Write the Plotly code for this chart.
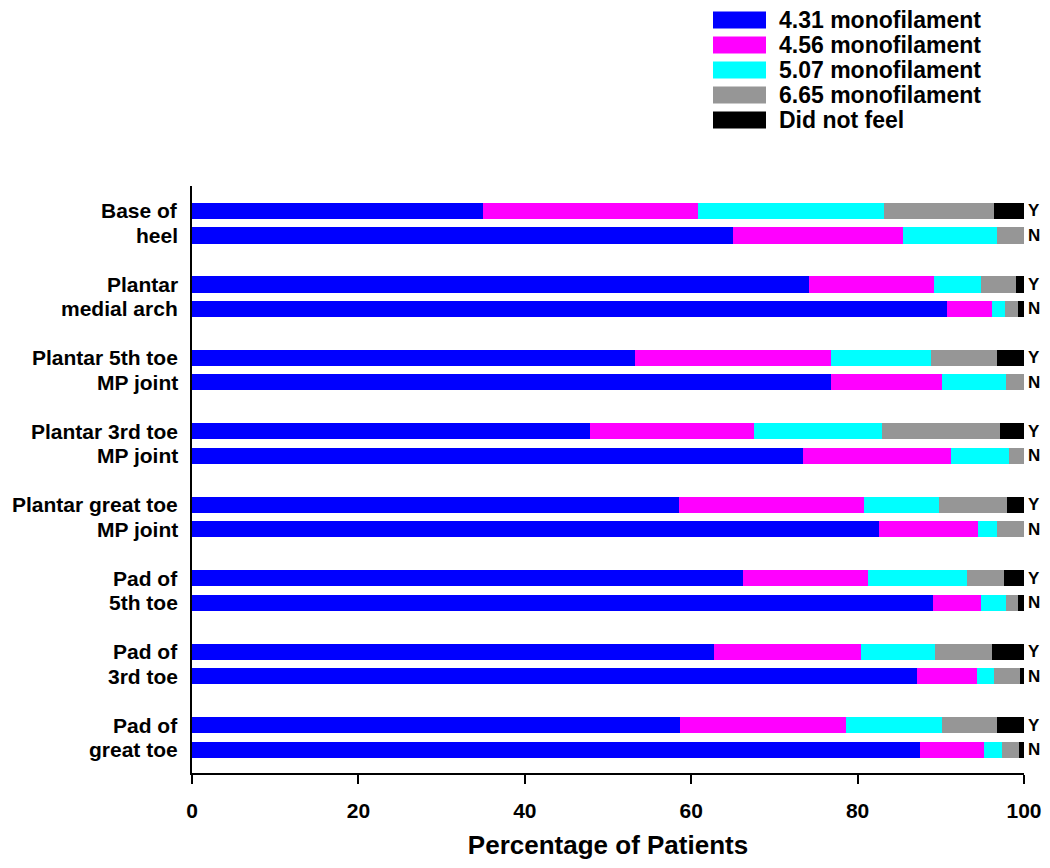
import plotly.graph_objects as go

# ---- data ----
site_line1 = ["Base of", "Plantar", "Plantar 5th toe", "Plantar 3rd toe",
              "Plantar great toe", "Pad of", "Pad of", "Pad of"]
site_line2 = ["heel", "medial arch", "MP joint", "MP joint",
              "MP joint", "5th toe", "3rd toe", "great toe"]
yn_labels = ["Y", "N"]

series_names = ["4.31 monofilament", "4.56 monofilament", "5.07 monofilament",
                "6.65 monofilament", "Did not feel"]
series_colors = ["#0000FF", "#FF00FF", "#00FFFF", "#969696", "#000000"]

# bars ordered: site1 Y, site1 N, site2 Y, site2 N, ...
mono_431 = [35.0, 65.0, 74.2, 90.7, 53.3, 76.8, 47.8, 73.4, 58.5, 82.6, 66.2, 89.1, 62.7, 87.1, 58.7, 87.5]
mono_456 = [25.8, 20.5, 15.0, 5.4, 23.5, 13.4, 19.8, 17.8, 22.3, 11.9, 15.0, 5.7, 17.7, 7.3, 19.9, 7.7]
mono_507 = [22.4, 11.3, 5.6, 1.6, 12.0, 7.6, 15.3, 7.0, 9.0, 2.2, 11.9, 3.0, 8.9, 2.0, 11.5, 2.1]
mono_665 = [13.2, 3.2, 4.2, 1.6, 8.0, 2.2, 14.2, 1.8, 8.1, 3.3, 4.5, 1.5, 6.8, 3.1, 6.7, 2.1]
did_not_feel = [3.6, 0.0, 1.0, 0.7, 3.2, 0.0, 2.9, 0.0, 2.1, 0.0, 2.4, 0.7, 3.9, 0.5, 3.2, 0.6]

x_ticks = [0, 20, 40, 60, 80, 100]
x_title = "Percentage of Patients"

# ---- layout helpers ----
FONT = "Arial, Liberation Sans, sans-serif"
series_values = [mono_431, mono_456, mono_507, mono_665, did_not_feel]
n_sites = len(site_line1)
positions = []
for i in range(n_sites):
    positions += [3 * i, 3 * i + 1]

fig = go.Figure()
for name, color, vals in zip(series_names, series_colors, series_values):
    fig.add_trace(go.Bar(
        x=vals, y=positions, orientation="h", name=name,
        marker=dict(color=color, line=dict(width=0)),
        width=0.66, showlegend=False,
    ))

annotations = []
for i in range(n_sites):
    for k, txt in enumerate([site_line1[i], site_line2[i]]):
        annotations.append(dict(
            x=0, xref="paper", y=3 * i + k, yref="y", text=txt,
            xanchor="right", yanchor="middle", xshift=-12, showarrow=False,
            font=dict(family=FONT, size=21, color="black", weight="bold"),
        ))
    for k, txt in enumerate(yn_labels):
        annotations.append(dict(
            x=100, xref="x", y=3 * i + k, yref="y", text=txt,
            xanchor="left", yanchor="middle", xshift=2, showarrow=False,
            font=dict(family=FONT, size=17, color="black", weight="bold"),
        ))

# the page has an 8px body margin; size the figure so the page is 1050x868
OFF = 8
W, H = 1050 - 2 * OFF, 868 - 2 * OFF
L, T = 192 - OFF, 186 - OFF
pw, ph = 832, 587
R = W - L - pw
B = H - T - ph

def px_to_paper_x(px):
    return (px - OFF - L) / pw

def px_to_paper_y(py):
    return (H - B - (py - OFF)) / ph

shapes = []
row_centers = [20, 45, 70, 95, 120]
for name, color, yc in zip(series_names, series_colors, row_centers):
    shapes.append(dict(
        type="rect", xref="paper", yref="paper",
        x0=px_to_paper_x(713), x1=px_to_paper_x(766),
        y0=px_to_paper_y(yc + 8.5), y1=px_to_paper_y(yc - 8.5),
        fillcolor=color, line=dict(width=0),
    ))
    annotations.append(dict(
        x=px_to_paper_x(777), xref="paper", y=px_to_paper_y(yc), yref="paper",
        text=name, xanchor="left", yanchor="middle", showarrow=False,
        font=dict(family=FONT, size=23, color="black", weight="bold"),
    ))

fig.update_layout(
    width=W, height=H,
    margin=dict(l=L, r=R, t=T, b=B, pad=0, autoexpand=False),
    paper_bgcolor="white", plot_bgcolor="white",
    barmode="stack",
    font=dict(family=FONT, color="black"),
    annotations=annotations, shapes=shapes,
    xaxis=dict(
        range=[0, 100], tickvals=x_ticks, ticktext=[str(t) for t in x_ticks],
        showline=True, linecolor="black", linewidth=2, automargin=False,
        ticks="outside", ticklen=9, tickwidth=2, tickcolor="black",
        showgrid=False, zeroline=False, ticklabelstandoff=9,
        tickfont=dict(family=FONT, size=21, color="black", weight="bold"),
        title=dict(text=x_title, standoff=18,
                   font=dict(family=FONT, size=26, color="black", weight="bold")),
    ),
    yaxis=dict(
        range=[22.95, -1.02], showline=True, linecolor="black", linewidth=2,
        automargin=False,
        showticklabels=False, ticks="", showgrid=False, zeroline=False,
    ),
)

fig.write_html("out.html", config={"displayModeBar": False})
